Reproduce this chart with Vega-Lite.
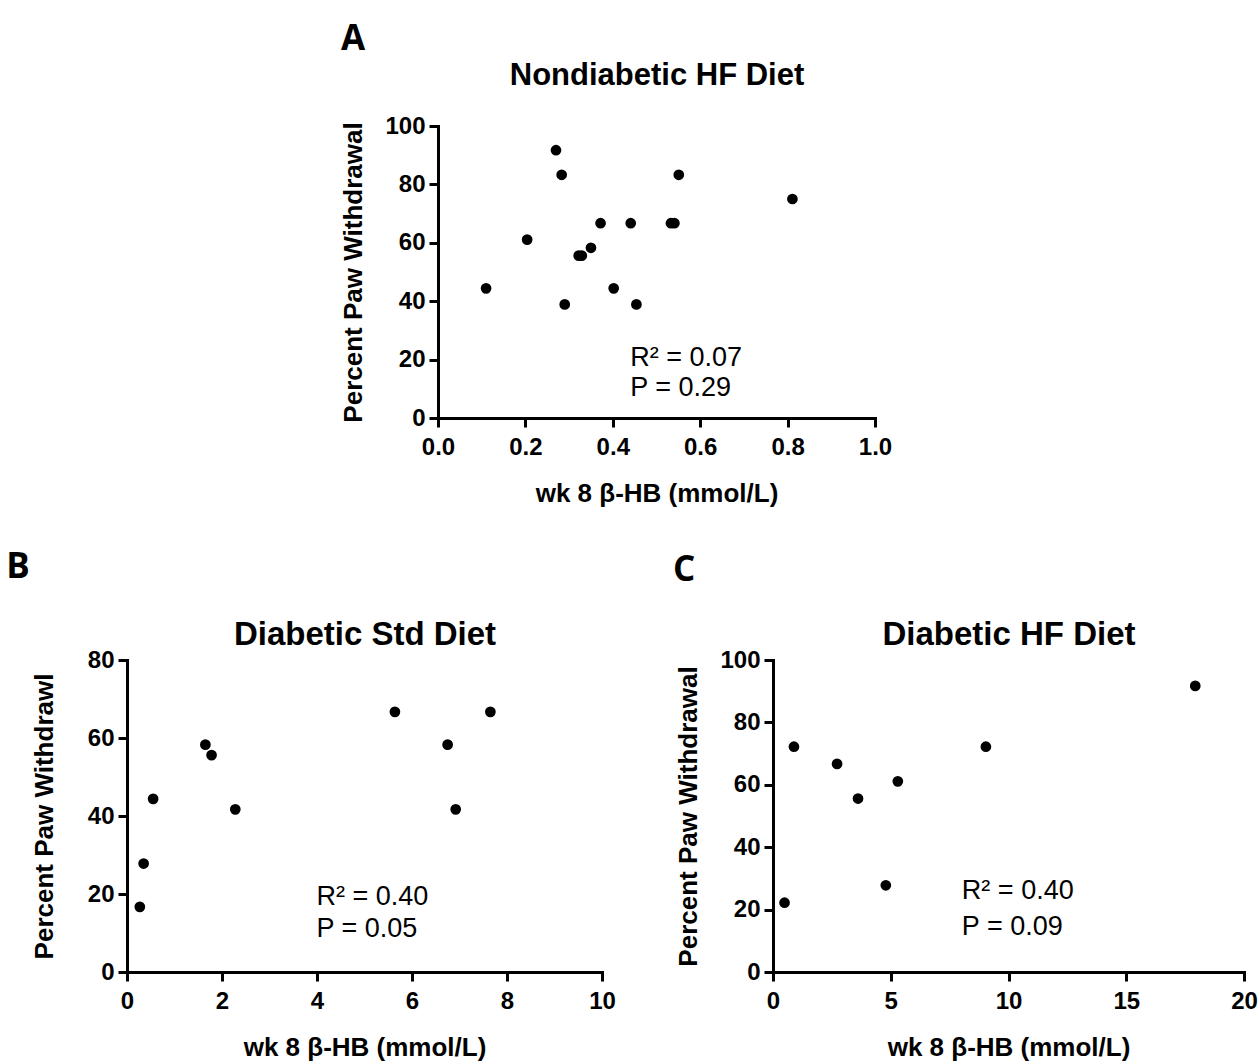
{
  "$schema": "https://vega.github.io/schema/vega-lite/v6.json",
  "background": "white",
  "padding": {"left": 6, "top": 22, "right": 5, "bottom": 5},
  "datasets": {
    "a": [
      {"x": 0.11, "y": 44.4}, {"x": 0.204, "y": 61.1}, {"x": 0.27, "y": 91.7}, {"x": 0.283, "y": 83.3},
      {"x": 0.29, "y": 38.9}, {"x": 0.322, "y": 55.6}, {"x": 0.329, "y": 55.6}, {"x": 0.35, "y": 58.3},
      {"x": 0.372, "y": 66.7}, {"x": 0.402, "y": 44.4}, {"x": 0.441, "y": 66.7}, {"x": 0.454, "y": 38.9},
      {"x": 0.533, "y": 66.7}, {"x": 0.541, "y": 66.7}, {"x": 0.551, "y": 83.3}, {"x": 0.811, "y": 75.0}
    ],
    "b": [
      {"x": 0.27, "y": 16.7}, {"x": 0.35, "y": 27.8}, {"x": 0.55, "y": 44.4}, {"x": 1.65, "y": 58.3},
      {"x": 1.78, "y": 55.6}, {"x": 2.28, "y": 41.7}, {"x": 5.64, "y": 66.7}, {"x": 6.75, "y": 58.3},
      {"x": 6.92, "y": 41.7}, {"x": 7.65, "y": 66.7}
    ],
    "c": [
      {"x": 0.49, "y": 22.2}, {"x": 0.89, "y": 72.2}, {"x": 2.72, "y": 66.7}, {"x": 3.61, "y": 55.6},
      {"x": 4.79, "y": 27.8}, {"x": 5.3, "y": 61.1}, {"x": 9.04, "y": 72.2}, {"x": 17.93, "y": 91.7}
    ],
    "notesA": [{"x": 0.44, "y": 17.8, "label": "R² = 0.07"}, {"x": 0.44, "y": 7.5, "label": "P = 0.29"}],
    "notesB": [{"x": 3.99, "y": 17.2, "label": "R² = 0.40"}, {"x": 3.99, "y": 9.05, "label": "P = 0.05"}],
    "notesC": [{"x": 8.02, "y": 23.3, "label": "R² = 0.40"}, {"x": 8.02, "y": 11.9, "label": "P = 0.09"}]
  },
  "spacing": 44,
  "vconcat": [
    {
      "bounds": "flush",
      "spacing": 10,
      "hconcat": [
        {"width": 301, "height": 292, "data": {"values": []}, "mark": "point", "encoding": {}},
        {
          "width": 437, "height": 292,
          "title": {"text": "A", "anchor": "start", "frame": "bounds", "offset": 2, "dx": 0},
          "layer": [
            {
              "data": {"name": "a"},
              "mark": {"type": "point", "filled": true, "size": 115, "color": "black", "opacity": 1},
              "encoding": {
                "x": {"field": "x", "type": "quantitative", "scale": {"domain": [0, 1]},
                      "axis": {"orient": "bottom", "title": "wk 8 β-HB (mmol/L)", "values": [0, 0.2, 0.4, 0.6, 0.8, 1], "format": ".1f"}},
                "y": {"field": "y", "type": "quantitative", "scale": {"domain": [0, 100]},
                      "axis": {"title": "Percent Paw Withdrawal", "values": [0, 20, 40, 60, 80, 100], "titlePadding": 18, "labelPadding": 4}}
              }
            },
            {
              "data": {"name": "notesA"},
              "mark": {"type": "text", "align": "left", "baseline": "alphabetic", "font": "Liberation Sans", "fontSize": 27, "color": "black"},
              "encoding": {
                "x": {"field": "x", "type": "quantitative",
                      "axis": {"orient": "top", "title": "Nondiabetic HF Diet", "labels": false, "ticks": false, "domain": false, "titleFontSize": 31, "titlePadding": 35}},
                "y": {"field": "y", "type": "quantitative",
                      "axis": {"title": "Percent Paw Withdrawal", "values": [0, 20, 40, 60, 80, 100], "titlePadding": 18, "labelPadding": 4}},
                "text": {"field": "label"}
              }
            }
          ],
          "resolve": {"axis": {"x": "independent"}}
        }
      ]
    },
    {
      "bounds": "flush",
      "spacing": 171,
      "hconcat": [
        {
          "width": 475, "height": 312,
          "title": {"text": "B", "anchor": "start", "frame": "bounds", "offset": 33, "dx": -25},
          "layer": [
            {
              "data": {"name": "b"},
              "mark": {"type": "point", "filled": true, "size": 115, "color": "black", "opacity": 1},
              "encoding": {
                "x": {"field": "x", "type": "quantitative", "scale": {"domain": [0, 10]},
                      "axis": {"orient": "bottom", "title": "wk 8 β-HB (mmol/L)", "values": [0, 2, 4, 6, 8, 10]}},
                "y": {"field": "y", "type": "quantitative", "scale": {"domain": [0, 80]},
                      "axis": {"title": "Percent Paw Withdrawl", "values": [0, 20, 40, 60, 80], "titlePadding": 30, "labelPadding": 4}}
              }
            },
            {
              "data": {"name": "notesB"},
              "mark": {"type": "text", "align": "left", "baseline": "alphabetic", "font": "Liberation Sans", "fontSize": 27, "color": "black"},
              "encoding": {
                "x": {"field": "x", "type": "quantitative",
                      "axis": {"orient": "top", "title": "Diabetic Std Diet", "labels": false, "ticks": false, "domain": false, "titleFontSize": 33, "titlePadding": 9}},
                "y": {"field": "y", "type": "quantitative",
                      "axis": {"title": "Percent Paw Withdrawl", "values": [0, 20, 40, 60, 80], "titlePadding": 30, "labelPadding": 4}},
                "text": {"field": "label"}
              }
            }
          ],
          "resolve": {"axis": {"x": "independent"}}
        },
        {
          "width": 471, "height": 312,
          "title": {"text": "C", "anchor": "start", "frame": "bounds", "offset": 30, "dx": -3},
          "layer": [
            {
              "data": {"name": "c"},
              "mark": {"type": "point", "filled": true, "size": 115, "color": "black", "opacity": 1},
              "encoding": {
                "x": {"field": "x", "type": "quantitative", "scale": {"domain": [0, 20]},
                      "axis": {"orient": "bottom", "title": "wk 8 β-HB (mmol/L)", "values": [0, 5, 10, 15, 20]}},
                "y": {"field": "y", "type": "quantitative", "scale": {"domain": [0, 100]},
                      "axis": {"title": "Percent Paw Withdrawal", "values": [0, 20, 40, 60, 80, 100], "titlePadding": 18, "labelPadding": 4}}
              }
            },
            {
              "data": {"name": "notesC"},
              "mark": {"type": "text", "align": "left", "baseline": "alphabetic", "font": "Liberation Sans", "fontSize": 27, "color": "black"},
              "encoding": {
                "x": {"field": "x", "type": "quantitative",
                      "axis": {"orient": "top", "title": "Diabetic HF Diet", "labels": false, "ticks": false, "domain": false, "titleFontSize": 33, "titlePadding": 9}},
                "y": {"field": "y", "type": "quantitative",
                      "axis": {"title": "Percent Paw Withdrawal", "values": [0, 20, 40, 60, 80, 100], "titlePadding": 18, "labelPadding": 4}},
                "text": {"field": "label"}
              }
            }
          ],
          "resolve": {"axis": {"x": "independent"}}
        }
      ]
    }
  ],
  "config": {
    "view": {"stroke": null},
    "axis": {
      "grid": false,
      "domainColor": "black", "domainWidth": 3, "domainCap": "square",
      "tickColor": "black", "tickWidth": 3, "tickSize": 9,
      "labelColor": "black", "labelFont": "Liberation Sans", "labelFontSize": 24, "labelFontWeight": "bold",
      "labelPadding": 8, "labelFlush": false, "labelOverlap": false,
      "titleColor": "black", "titleFont": "Liberation Sans", "titleFontSize": 26, "titleFontWeight": "bold",
      "titlePadding": 21
    },
    "title": {"font": "Open Sans", "fontSize": 35, "fontWeight": "bold", "color": "black"}
  }
}
